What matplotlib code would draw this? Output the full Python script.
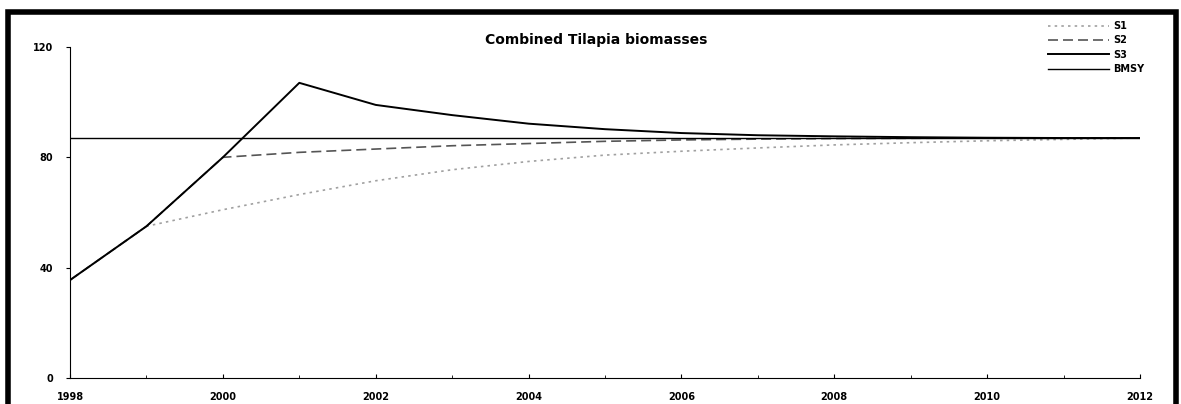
import matplotlib
matplotlib.use('Agg')

import matplotlib.pyplot as plt
from matplotlib.patches import Rectangle

years = [1998, 1999, 2000, 2001, 2002, 2003, 2004, 2005, 2006, 2007, 2008, 2009, 2010, 2011, 2012]
s1 = [35.5, 55, 61, 66.5, 71.5, 75.5, 78.5, 80.8, 82.2, 83.4, 84.5, 85.3, 86, 86.5, 87]
s2 = [35.5, 55, 80, 81.8, 83, 84.2, 85, 85.8, 86.3, 86.6, 86.8, 86.9, 87, 87, 87]
s3 = [35.5, 55, 80, 107, 99, 95.3, 92.2, 90.2, 88.8, 88, 87.6, 87.3, 87.1, 87, 87]
bmsy = 87

DPI = 100
fig = plt.figure(figsize=(1181 / DPI, 404 / DPI), dpi=DPI)
fig.patches.append(Rectangle((0.007, -0.05), 0.989, 1.02, transform=fig.transFigure,
                             fill=False, linewidth=4, edgecolor='black'))

ax = fig.add_axes([0.0593, 0.0644, 0.906, 0.8193])
ax.plot(years, s1, linestyle=(0, (1.5, 2.5)), color='#a0a0a0', linewidth=1.2, label='S1')
ax.plot(years, s2, linestyle=(0, (6, 3)), color='#555555', linewidth=1.2, label='S2')
ax.plot(years, s3, linestyle='-', color='black', linewidth=1.4, label='S3')
ax.axhline(bmsy, color='black', linewidth=1.0, label='BMSY')

ax.set_xlim(1998, 2012)
ax.set_ylim(0, 120)
ax.set_xticks(range(1998, 2013, 2))
ax.set_xticks(range(1998, 2013), minor=True)
ax.set_yticks([0, 40, 80, 120])
ax.tick_params(axis='both', labelsize=7, length=3, width=0.8)
ax.tick_params(axis='y', pad=9)
ax.tick_params(axis='x', which='both', direction='in', pad=10)
ax.tick_params(axis='x', which='minor', length=2)
for lab in ax.get_xticklabels() + ax.get_yticklabels():
    lab.set_fontweight('bold')
ax.spines['top'].set_visible(False)
ax.spines['right'].set_visible(False)

fig.text(0.505, 0.90, 'Combined Tilapia biomasses', fontsize=10, fontweight='bold',
         ha='center', va='center')

leg = ax.legend(loc='upper right', bbox_to_anchor=(1.012, 1.105), frameon=False,
                prop={'size': 7, 'weight': 'bold'}, handlelength=6.3,
                handletextpad=0.4, labelspacing=0.45)

plt.savefig('out.png', dpi=DPI)
